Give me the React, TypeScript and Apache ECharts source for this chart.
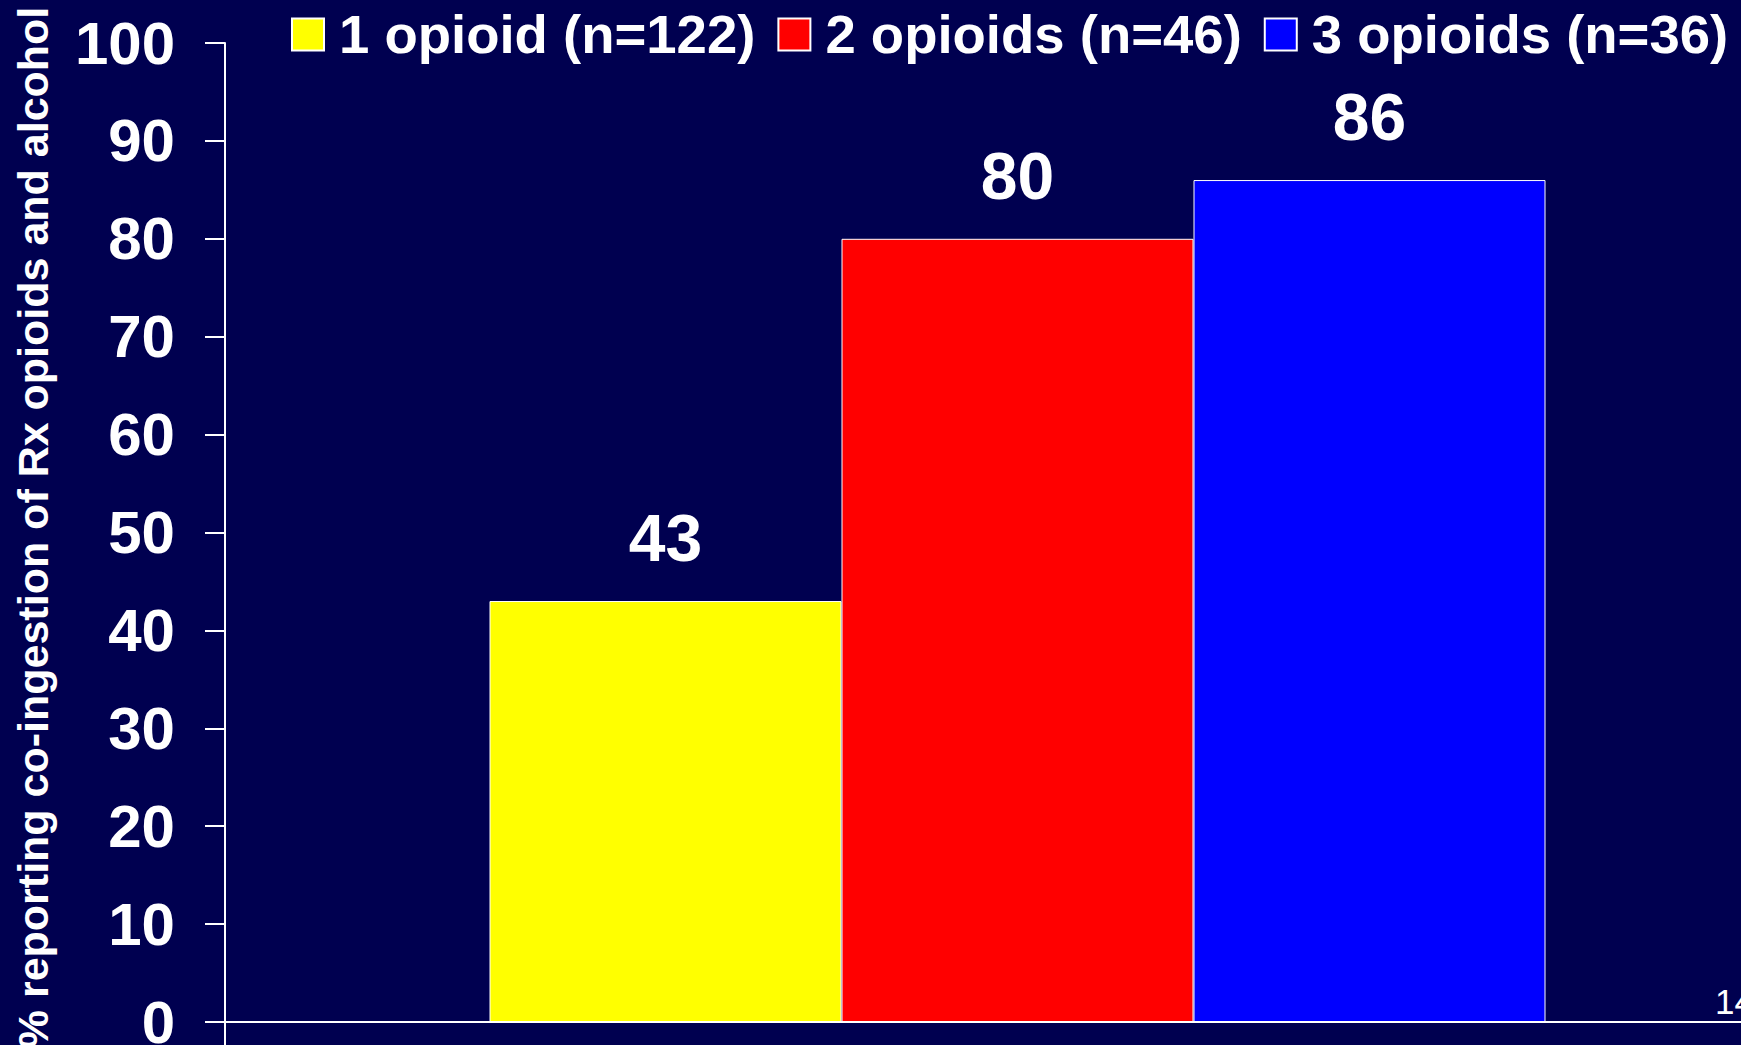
import React, { useEffect, useRef } from "react";
import * as echarts from "echarts";

const categories: string[] = [""];
const seriesNames: string[] = ["1 opioid (n=122)", "2 opioids (n=46)", "3 opioids (n=36)"];
const seriesValues: number[] = [43, 80, 86];
const seriesColors: string[] = ["#FFFF00", "#FF0000", "#0000FF"];
const yAxisTitle = "% reporting co-ingestion of Rx opioids and alcohol";
const yMin = 0;
const yMax = 100;
const yInterval = 10;
const pageNumber = "14";

const FONT = "'Liberation Sans', Arial, sans-serif";
const BG = "#000050";

export default function App() {
  const ref = useRef<HTMLDivElement>(null);

  useEffect(() => {
    if (!ref.current) return;
    const chart = echarts.init(ref.current, undefined, { renderer: "svg" });
    const option: any = {
      animation: false,
      backgroundColor: BG,
      textStyle: { fontFamily: FONT },
      legend: {
        left: 291,
        top: 7,
        padding: 0,
        itemWidth: 32,
        itemHeight: 32,
        itemGap: 22,
        icon: "rect",
        textStyle: {
          color: "#ffffff",
          fontSize: 54.5,
          fontWeight: "bold",
          fontFamily: FONT,
          lineHeight: 54,
          padding: [0, 0, 0, 10],
        },
        data: seriesNames,
      },
      grid: {
        left: 225,
        top: 43,
        width: 1585,
        height: 979,
        containLabel: false,
        outerBoundsMode: "none",
      },
      xAxis: {
        type: "category",
        data: categories,
        boundaryGap: true,
        axisLine: { show: true, lineStyle: { color: "#ffffff", width: 2 } },
        axisTick: { show: true, length: 25, lineStyle: { color: "#ffffff", width: 2 } },
        axisLabel: { show: false },
        splitLine: { show: false },
      },
      yAxis: {
        type: "value",
        min: yMin,
        max: yMax,
        interval: yInterval,
        name: yAxisTitle,
        nameLocation: "middle",
        nameRotate: 90,
        nameGap: 171,
        nameTextStyle: {
          color: "#ffffff",
          fontSize: 43,
          fontWeight: "bold",
          fontFamily: FONT,
          lineHeight: 43,
          padding: [0, 0, 0, 10],
        },
        axisLine: { show: true, lineStyle: { color: "#ffffff", width: 2 } },
        axisTick: { show: true, length: 20, lineStyle: { color: "#ffffff", width: 2 } },
        axisLabel: {
          color: "#ffffff",
          fontSize: 60,
          fontWeight: "bold",
          fontFamily: FONT,
          margin: 50,
        },
        splitLine: { show: false },
      },
      series: seriesNames.map((name, i) => ({
        name,
        type: "bar",
        data: [seriesValues[i]],
        barWidth: 352,
        barGap: "0%",
        itemStyle: { color: seriesColors[i], borderColor: "#ffffff", borderWidth: 1 },
        label: {
          show: true,
          position: "top",
          distance: 30,
          color: "#ffffff",
          fontSize: 66,
          fontWeight: "bold",
          fontFamily: FONT,
          lineHeight: 66,
        },
      })),
      graphic: [
        {
          type: "text",
          left: 1715,
          top: 984,
          style: {
            text: pageNumber,
            fill: "#ffffff",
            fontSize: 35,
            fontFamily: FONT,
          },
        },
      ],
    };
    chart.setOption(option);
    return () => chart.dispose();
  }, []);

  return (
    <div
      ref={ref}
      style={{ position: "absolute", left: 0, top: 0, width: 1741, height: 1045 }}
    />
  );
}
